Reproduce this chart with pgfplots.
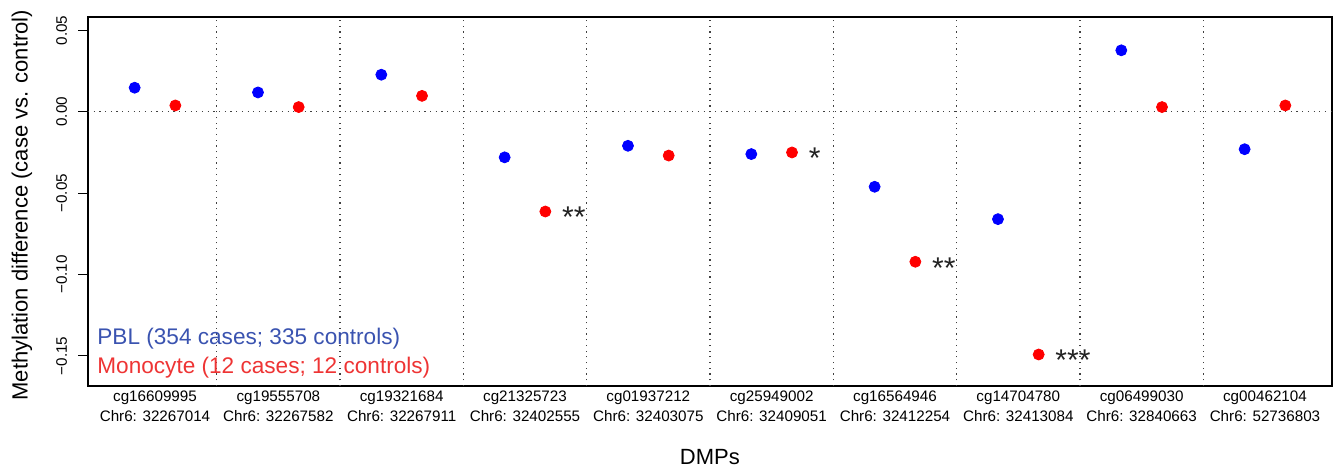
\documentclass[border=0pt]{standalone}
\usepackage{fontspec}
\setmainfont{Liberation Sans}
\usepackage{pgfplots}
\pgfplotsset{compat=1.18}
\definecolor{legblue}{HTML}{3A53B0}
\definecolor{legred}{HTML}{EE3434}
\definecolor{startxt}{HTML}{222222}

\begin{document}
\begin{tikzpicture}[sep/.style={black!75, line width=0.6pt, dash pattern=on 0.6pt off 2.25pt}]
\path[use as bounding box] (-44pt,-42pt) rectangle (625.5pt,193pt);
\begin{axis}[
  at={(0,0)}, anchor=south west,
  scale only axis, width=621.85pt, height=184.5pt,
  xmin=0.4566, xmax=10.541, ymin=-0.16857, ymax=0.05828,
  axis line style={line width=0.8pt},
  clip=false,
  xtick={1,...,10}, xtick style={draw=none},
  xticklabels={{cg16609995\\Chr6: 32267014},{cg19555708\\Chr6: 32267582},
    {cg19321684\\Chr6: 32267911},{cg21325723\\Chr6: 32402555},
    {cg01937212\\Chr6: 32403075},{cg25949002\\Chr6: 32409051},
    {cg16564946\\Chr6: 32412254},{cg14704780\\Chr6: 32413084},
    {cg06499030\\Chr6: 32840663},{cg00462104\\Chr6: 52736803}},
  xticklabel style={align=center, font=\fontsize{7.6}{10}\selectfont, anchor=north, yshift=6.1pt},
  ytick={-0.15,-0.1,-0.05,0,0.05},
  yticklabels={−0.15,−0.10,−0.05,0.00,0.05},
  ytick pos=left,
  tick align=outside, major tick length=5pt,
  ytick style={line width=0.6pt, black},
  yticklabel style={font=\fontsize{7.6}{9}\selectfont, rotate=90, anchor=south},
  yticklabel shift=2pt,
]

% reference lines
\draw[sep] (axis cs:0.4566,0) -- (axis cs:10.541,0);
\draw[sep] (axis cs:1.5,-0.16857) -- (axis cs:1.5,0.05828);
\draw[sep] (axis cs:2.5,-0.16857) -- (axis cs:2.5,0.05828);
\draw[sep] (axis cs:3.5,-0.16857) -- (axis cs:3.5,0.05828);
\draw[sep] (axis cs:4.5,-0.16857) -- (axis cs:4.5,0.05828);
\draw[sep] (axis cs:5.5,-0.16857) -- (axis cs:5.5,0.05828);
\draw[sep] (axis cs:6.5,-0.16857) -- (axis cs:6.5,0.05828);
\draw[sep] (axis cs:7.5,-0.16857) -- (axis cs:7.5,0.05828);
\draw[sep] (axis cs:8.5,-0.16857) -- (axis cs:8.5,0.05828);
\draw[sep] (axis cs:9.5,-0.16857) -- (axis cs:9.5,0.05828);

% PBL
\addplot[only marks, mark=*, mark size=2.75pt, blue] coordinates {
  (0.835,0.0148) (1.835,0.0119) (2.835,0.0228) (3.835,-0.0280) (4.835,-0.0209)
  (5.835,-0.0260) (6.835,-0.0461) (7.835,-0.0660) (8.835,0.0378) (9.835,-0.0230)};
% Monocyte
\addplot[only marks, mark=*, mark size=2.75pt, red] coordinates {
  (1.165,0.0039) (2.165,0.0029) (3.165,0.0098) (4.165,-0.0613) (5.165,-0.0269)
  (6.165,-0.0250) (7.165,-0.0922) (8.165,-0.1492) (9.165,0.0029) (10.165,0.0039)};

% significance
\begin{scope}[every node/.style={anchor=base west, inner sep=0pt, yshift=-8.2pt,
    text=startxt, font=\fontsize{15}{15}\selectfont}]
\node at (axis cs:4.298,-0.0613) {**};
\node at (axis cs:6.298,-0.0250) {*};
\node at (axis cs:7.298,-0.0922) {**};
\node at (axis cs:8.298,-0.1492) {***};
\end{scope}

% legend text
\node[anchor=base west, inner sep=0pt, text=legblue, font=\fontsize{11.3}{11}\selectfont,
  xshift=4.5pt, yshift=20.5pt] at (rel axis cs:0,0) {PBL (354 cases; 335 controls)};
\node[anchor=base west, inner sep=0pt, text=legred, font=\fontsize{11.3}{11}\selectfont,
  xshift=4.5pt, yshift=6pt] at (rel axis cs:0,0) {Monocyte (12 cases; 12 controls)};

% axis titles
\node[font=\fontsize{11}{11}\selectfont, yshift=-35.5pt] at (rel axis cs:0.5,0) {DMPs};
\node[font=\fontsize{11}{11}\selectfont, xshift=-33pt, rotate=90]
  at (rel axis cs:0,0.49) {Methylation difference (case vs. control)};
\end{axis}
\end{tikzpicture}
\end{document}
